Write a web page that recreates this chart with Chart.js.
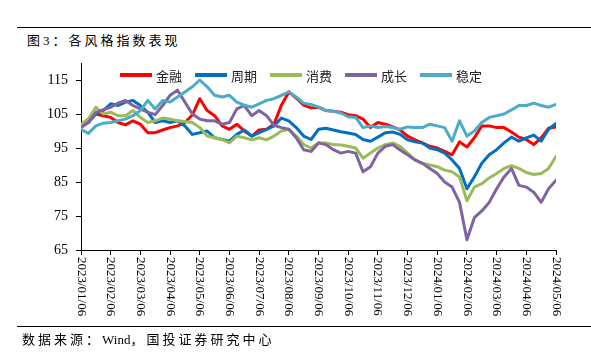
<!DOCTYPE html>
<html>
<head>
<meta charset="utf-8">
<script src="https://cdn.jsdelivr.net/npm/chart.js@4.4.1/dist/chart.umd.min.js"></script>
<style>
  html, body { margin: 0; padding: 0; background: #fff; }
  #wrap { position: relative; width: 591px; height: 355px; overflow: hidden; background: #fff; }
  #c { position: absolute; left: 0; top: 0; }
  .rule { position: absolute; left: 17px; width: 574px; height: 0; border-top: 1.5px solid #000; }
  .txt { position: absolute; white-space: pre; color: #000;
         font-family: "Liberation Serif", "Noto Sans CJK SC", serif; }
  #title { left: 27px; top: 33px; font-size: 13px; letter-spacing: 3px; line-height: 16px; }
  #source { left: 22px; top: 332px; font-size: 13px; letter-spacing: 3px; line-height: 16px; }
  #source .en { letter-spacing: 0; }
</style>
</head>
<body>
<div id="wrap">
  <div class="rule" style="top:27px"></div>
  <div id="title" class="txt">图3：各风格指数表现</div>
  <canvas id="c" width="591" height="355"></canvas>
  <div class="rule" style="top:326px"></div>
  <div id="source" class="txt">数据来源：<span class="en">Wind</span>，国投证券研究中心</div>
</div>
<script>
// ---- data ----
const monthTicks = ['2023/01/06','2023/02/06','2023/03/06','2023/04/06','2023/05/06','2023/06/06',
  '2023/07/06','2023/08/06','2023/09/06','2023/10/06','2023/11/06','2023/12/06','2024/01/06',
  '2024/02/06','2024/03/06','2024/04/06','2024/05/06'];
const yTicks = [65, 75, 85, 95, 105, 115];
const pointsPerMonth = 4;
const seriesNames = ['金融', '周期', '消费', '成长', '稳定'];
const seriesColors = ['#FF0000', '#0070C0', '#9BBB59', '#8064A2', '#4BACC6'];

const finance = [101.5,103.5,105,104.5,104,102.5,101.8,103,102,99.5,
  99.5,100.3,101,101.5,102.5,104.7,109.5,106,104.5,101.5,
  100.5,102,100,98.5,100.3,100.5,102,107.6,111.5,109.7,
  107.6,106.8,107,106,105.8,105.5,104.8,104.5,103.5,101,
  102.5,102,101.2,100.3,98.5,97.4,96.5,95.5,95,94,
  93,96.8,95.3,98,101.5,101.5,101,101,99.7,98.2,
  97.5,96,98,100.8,101.2];
const cyclical = [101.5,102.5,105,106,108,107.5,108.5,109,107.5,105.5,
  102.5,103,102.5,103,101.5,99,99.5,100,98,97.5,
  97,99,100.3,98.5,99.5,100.5,101.5,103.8,103,101,
  98.5,97.5,100.5,100.8,100.3,99.8,99.4,99,97.5,97,
  98.2,99.5,99.7,99,97.4,96.8,96.5,95,94.5,93.5,
  91.5,89,83,86.5,90.5,93,94.5,96.5,98.2,97,
  98,98.8,97,100.5,102.2];
const consumer = [102,103.5,107,105,105.5,104.5,104.5,106,104,102.5,
  103,103.8,103.5,103,102.8,102.5,101,98.5,98,97.5,
  96.5,98.5,98,97.4,98,97.4,98.5,100,100.5,98.5,
  96,95,96.5,96.5,96,95.9,95.5,95,92,93.5,
  95,96,96.5,95.5,93.5,91.5,90.5,90,89.5,88.5,
  88,86.5,79.5,83.5,84.5,86.2,87.5,89,89.8,89,
  87.8,87.2,87.5,89,92.5];
const growth = [101,102.5,105.5,106.3,107,108.2,109,107.5,106.5,105.5,
  104.8,107.5,110.5,112,108.5,105,103.5,103,103,102,
  102.5,106.5,107.5,104.5,106,104.5,101.7,101,100.5,98,
  94.5,94,96.5,96,94.5,93.5,94,93.5,88,89.5,
  93.5,95.5,96,94.4,93,91.5,90.5,89,87.5,85,
  83.5,79,68,74.5,76.5,79,83,86.5,89,84,
  83.5,82,79,83,85.5];
const stable = [100.5,99.3,101.5,102.3,102.5,103,103.5,104.5,106,109,
  106.5,109,108.5,110,111.5,113,115,113,110.5,110,
  110.5,108.5,107.6,107,108,109,109.5,110.5,111.5,110,
  108.2,107.8,107,106,105.8,105.3,104.2,104,101,101.5,
  101,101.3,101,100.5,101.2,101,101,102,101.5,101,
  97,103,98.5,100,102.5,104,104.5,105,106.2,107.5,
  107.5,108.2,107.5,107,107.8];

const allSeries = [finance, cyclical, consumer, growth, stable];
const toPoints = arr => arr.map((v, i) => ({ x: i / pointsPerMonth, y: v }));

const datasets = allSeries.map((arr, k) => ({
  label: seriesNames[k],
  data: toPoints(arr),
  borderColor: seriesColors[k],
  backgroundColor: seriesColors[k],
  borderWidth: 3,
  pointRadius: 0,
  tension: 0,
  fill: false,
  borderJoinStyle: 'round',
  borderCapStyle: 'round',
  order: allSeries.length - k
}));

const customDraw = {
  id: 'customDraw',
  afterDraw(chart) {
    const ctx = chart.ctx;
    const xs = chart.scales.x;
    ctx.save();
    // rotated x tick labels (reading top to bottom)
    ctx.font = '13px "Liberation Serif"';
    ctx.fillStyle = '#000';
    ctx.textAlign = 'left';
    ctx.textBaseline = 'middle';
    xs.ticks.forEach((t, i) => {
      const px = xs.getPixelForTick(i);
      ctx.save();
      ctx.translate(px, xs.top + 7);
      ctx.rotate(Math.PI / 2);
      ctx.fillText(monthTicks[t.value], 0, 0);
      ctx.restore();
    });
    // legend
    let lx = 120;
    const ly = 75;
    ctx.font = '13px "Noto Sans CJK SC"';
    chart.data.datasets.forEach(ds => {
      ctx.strokeStyle = ds.borderColor;
      ctx.lineWidth = 4;
      ctx.lineCap = 'butt';
      ctx.beginPath();
      ctx.moveTo(lx, ly);
      ctx.lineTo(lx + 32, ly);
      ctx.stroke();
      lx += 36;
      ctx.fillStyle = '#222';
      ctx.fillText(ds.label, lx, ly + 1);
      lx += ctx.measureText(ds.label).width + 13;
    });
    ctx.restore();
  }
};

new Chart(document.getElementById('c'), {
  type: 'line',
  data: { datasets },
  options: {
    responsive: false,
    animation: false,
    devicePixelRatio: 1,
    layout: { padding: { left: 30, right: 35, top: 63, bottom: 35 } },
    plugins: { legend: { display: false }, tooltip: { enabled: false } },
    scales: {
      x: {
        type: 'linear',
        min: 0,
        max: monthTicks.length - 1,
        afterBuildTicks: s => { s.ticks = monthTicks.map((_, i) => ({ value: i })); },
        afterFit: s => { s.height = 70; },
        ticks: {
          autoSkip: false,
          minRotation: 90,
          maxRotation: 90,
          color: 'rgba(0,0,0,0)',
          font: { family: 'Liberation Serif', size: 13 },
          callback: v => monthTicks[v]
        },
        grid: { display: true, drawOnChartArea: false, drawTicks: true, tickLength: 5, color: '#000' },
        border: { display: true, color: '#000', width: 1 }
      },
      y: {
        min: 65,
        max: 120,
        afterBuildTicks: s => { s.ticks = yTicks.map(v => ({ value: v })); },
        afterFit: s => { s.width = 51; },
        ticks: {
          color: '#000',
          padding: 8,
          font: { family: 'Liberation Serif', size: 14 },
          callback: v => String(v)
        },
        grid: { display: true, drawOnChartArea: false, drawTicks: true, tickLength: 5, color: '#000' },
        border: { display: true, color: '#000', width: 1 }
      }
    }
  },
  plugins: [customDraw]
});
</script>
</body>
</html>
